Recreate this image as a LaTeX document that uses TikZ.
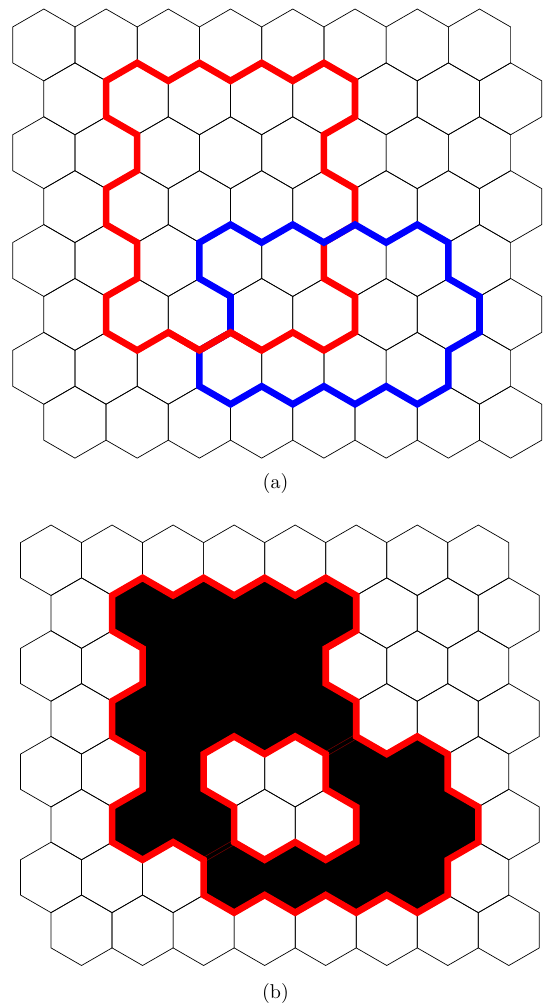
\documentclass[tikz,border=0pt]{standalone}
\usepackage{graphicx}
\tikzset{
  gridline/.style={draw=black, line width=0.7pt, line join=miter},
  redloop/.style={draw=red, line width=6.6pt, line join=miter},
  blueloop/.style={draw=blue, line width=6.6pt, line join=miter},
  pinchout/.style={draw=red!45!black, line width=5pt},
  pinchin/.style={draw=black, line width=3.6pt},
  captext/.style={anchor=base, inner sep=0pt},
}
\newcommand{\drawhexgrid}{%
  \foreach \r in {0,...,7}{
    \foreach \c in {0,...,7}{
      \pgfmathsetmacro{\cx}{1+2*\c+mod(\r,2)}
      \pgfmathsetmacro{\cy}{2+3*\r}
      \draw[gridline] (\cx,\cy-2) -- (\cx+1,\cy-1) -- (\cx+1,\cy+1) -- (\cx,\cy+2) -- (\cx-1,\cy+1) -- (\cx-1,\cy-1) -- cycle;
    }
  }
}
\begin{document}
\begin{tikzpicture}
\useasboundingbox (0pt,0pt) rectangle (548pt,-1004pt);
% ---------- panel (a)
\begin{scope}[shift={(12.7pt,-9pt)}, x={(31.12pt,0pt)}, y={(0pt,-17.965pt)}]
  \drawhexgrid
  \draw[redloop] (3,4)--(4,3)--(5,4)--(6,3)--(7,4)--(8,3)--(9,4)--(10,3)--(11,4)--(11,6)--(10,7)--(10,9)--(11,10)--(11,12)--(10,13)--(10,15)--(11,16)--(11,18)--(10,19)--(9,18)--(8,19)--(7,18)--(6,19)--(5,18)--(4,19)--(3,18)--(3,16)--(4,15)--(4,13)--(3,12)--(3,10)--(4,9)--(4,7)--(3,6)--cycle;
  \draw[blueloop] (6,13)--(7,12)--(8,13)--(9,12)--(10,13)--(11,12)--(12,13)--(13,12)--(14,13)--(14,15)--(15,16)--(15,18)--(14,19)--(14,21)--(13,22)--(12,21)--(11,22)--(10,21)--(9,22)--(8,21)--(7,22)--(6,21)--(6,19)--(7,18)--(7,16)--(6,15)--cycle;
  \draw[redloop] (5,18)--(6,19)--(7,18)--(8,19);
\end{scope}
\node[captext] (capa) at (275.5pt,-488.3pt) {\scalebox{2}{(a)}};
% ---------- panel (b)
\begin{scope}[shift={(20.5pt,-525pt)}, x={(30.52pt,0pt)}, y={(0pt,-17.62pt)}]
  \drawhexgrid
  \fill[black, even odd rule]
    (3,4)--(4,3)--(5,4)--(6,3)--(7,4)--(8,3)--(9,4)--(10,3)--(11,4)--(11,6)--(10,7)--(10,9)--(11,10)--(11,12)--(12,13)--(13,12)--(14,13)--(14,15)--(15,16)--(15,18)--(14,19)--(14,21)--(13,22)--(12,21)--(11,22)--(10,21)--(9,22)--(8,21)--(7,22)--(6,21)--(6,19)--(5,18)--(4,19)--(3,18)--(3,16)--(4,15)--(4,13)--(3,12)--(3,10)--(4,9)--(4,7)--(3,6)--cycle
    (10,13)--(10,15)--(11,16)--(11,18)--(10,19)--(9,18)--(8,19)--(7,18)--(7,16)--(6,15)--(6,13)--(7,12)--(8,13)--(9,12)--cycle;
  \draw[pinchout] (10,13)--(11,12);
  \draw[pinchin] (10,13)--(11,12);
  \draw[pinchout] (6,19)--(7,18);
  \draw[pinchin] (6,19)--(7,18);
  \draw[redloop]
    (3,4)--(4,3)--(5,4)--(6,3)--(7,4)--(8,3)--(9,4)--(10,3)--(11,4)--(11,6)--(10,7)--(10,9)--(11,10)--(11,12)--(12,13)--(13,12)--(14,13)--(14,15)--(15,16)--(15,18)--(14,19)--(14,21)--(13,22)--(12,21)--(11,22)--(10,21)--(9,22)--(8,21)--(7,22)--(6,21)--(6,19)--(5,18)--(4,19)--(3,18)--(3,16)--(4,15)--(4,13)--(3,12)--(3,10)--(4,9)--(4,7)--(3,6)--cycle
    (10,13)--(10,15)--(11,16)--(11,18)--(10,19)--(9,18)--(8,19)--(7,18)--(7,16)--(6,15)--(6,13)--(7,12)--(8,13)--(9,12)--cycle;
\end{scope}
\node[captext] (capb) at (275.5pt,-998.3pt) {\scalebox{2}{(b)}};
\end{tikzpicture}
\end{document}
